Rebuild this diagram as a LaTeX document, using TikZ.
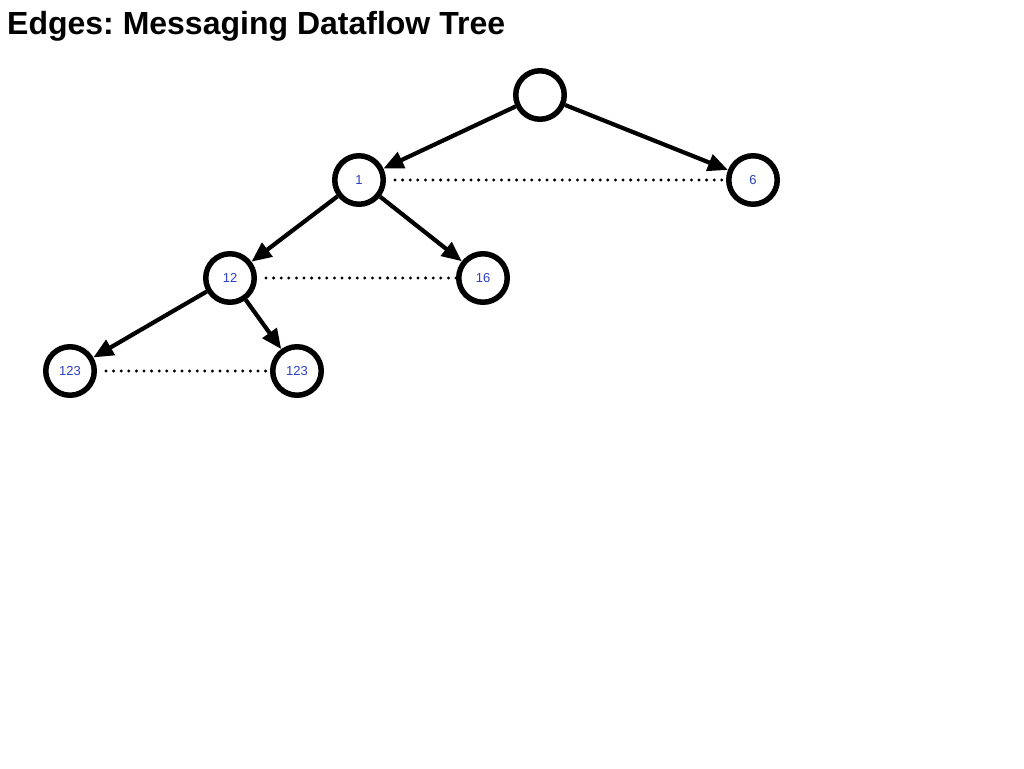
\documentclass[tikz,border=0pt]{standalone}
\usepackage{fontspec}
\setmainfont{Liberation Sans}
\usetikzlibrary{arrows.meta}
\definecolor{lblblue}{RGB}{43,63,196}
\begin{document}
\frenchspacing
\begin{tikzpicture}[x=1pt,y=-1pt,
  tnode/.style={circle,draw=black,line width=5.5pt,minimum size=48.5pt,inner sep=0pt,fill=white,
    font=\fontsize{13}{15}\selectfont,text=lblblue},
  tedge/.style={line width=4.2pt,-{Triangle[length=20pt,width=17pt]}},
  sibling/.style={line width=3.3pt,line cap=round,dash pattern=on 0pt off 7.6pt,shorten <=9pt}
]
\useasboundingbox (0,0) rectangle (1024,768);
\node[anchor=base west,inner sep=0pt,font=\fontsize{32}{36}\selectfont\bfseries] (title) at (7,35) {Edges: Messaging Dataflow Tree};

\node[tnode] (r) at (540,95) {};
\node[tnode] (n1) at (359,180) {1};
\node[tnode] (n6) at (753,180) {6};
\node[tnode] (n12) at (230,278) {12};
\node[tnode] (n16) at (483,278) {16};
\node[tnode] (n123a) at (70,371) {123};
\node[tnode] (n123b) at (297,371) {123};

\draw[tedge] (r) -- (n1);
\draw[tedge] (r) -- (n6);
\draw[tedge] (n1) -- (n12);
\draw[tedge] (n1) -- (n16);
\draw[tedge] (n12) -- (n123a);
\draw[tedge] (n12) -- (n123b);

\draw[sibling] (n1.east) -- (n6.west);
\draw[sibling] (n12.east) -- (n16.west);
\draw[sibling] (n123a.east) -- (n123b.west);
\end{tikzpicture}
\end{document}
